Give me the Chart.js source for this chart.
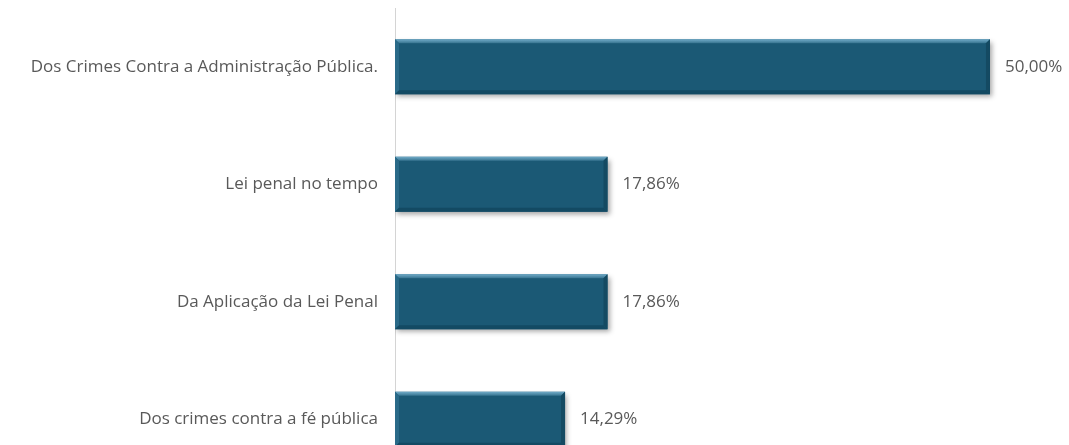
<!DOCTYPE html>
<html>
<head>
<meta charset="utf-8">
<script src="https://cdn.jsdelivr.net/npm/chart.js@4"></script>
<style>
  html, body { margin: 0; padding: 0; background: #fff; overflow: hidden; }
  #wrap { width: 1069px; height: 478px; position: relative; }
</style>
</head>
<body>
<div id="wrap"><canvas id="chart"></canvas></div>
<script>
// ===== DATA =====
const categories = [
  'Dos Crimes Contra a Administração Pública.',
  'Lei penal no tempo',
  'Da Aplicação da Lei Penal',
  'Dos crimes contra a fé pública'
];
const percentages = [50.00, 17.86, 17.86, 14.29];

const FONT = "'Open Sans', sans-serif";
const TEXT_COLOR = '#595959';
const fmtPct = v => v.toFixed(2).replace('.', ',') + '%';

// shadow + bevel look for the bars, plus value labels
const bevelBars = {
  id: 'bevelBars',
  beforeDatasetsDraw(chart) {
    const ctx = chart.ctx;
    ctx.save();
    ctx.shadowColor = 'rgba(0,0,0,0.35)';
    ctx.shadowBlur = 5;
    ctx.shadowOffsetX = 2;
    ctx.shadowOffsetY = 3;
  },
  afterDatasetsDraw(chart) {
    const ctx = chart.ctx;
    ctx.restore();
    const meta = chart.getDatasetMeta(0);
    meta.data.forEach((bar, i) => {
      const left = bar.base, right = bar.x;
      const top = bar.y - bar.height / 2, bottom = bar.y + bar.height / 2;
      const b = 4;
      ctx.save();
      // top bevel
      let g = ctx.createLinearGradient(0, top, 0, top + b + 2);
      g.addColorStop(0, '#74aecb');
      g.addColorStop(1, '#1b5975');
      ctx.fillStyle = g;
      ctx.beginPath();
      ctx.moveTo(left, top); ctx.lineTo(right, top);
      ctx.lineTo(right - b, top + b); ctx.lineTo(left + b, top + b);
      ctx.closePath(); ctx.fill();
      // left bevel
      ctx.fillStyle = '#2a6a88';
      ctx.beginPath();
      ctx.moveTo(left, top); ctx.lineTo(left + b, top + b);
      ctx.lineTo(left + b, bottom - b); ctx.lineTo(left, bottom);
      ctx.closePath(); ctx.fill();
      // bottom bevel
      ctx.fillStyle = '#134a63';
      ctx.beginPath();
      ctx.moveTo(left, bottom); ctx.lineTo(right, bottom);
      ctx.lineTo(right - b, bottom - b); ctx.lineTo(left + b, bottom - b);
      ctx.closePath(); ctx.fill();
      // right bevel
      ctx.fillStyle = '#144a62';
      ctx.beginPath();
      ctx.moveTo(right, top); ctx.lineTo(right, bottom);
      ctx.lineTo(right - b, bottom - b); ctx.lineTo(right - b, top + b);
      ctx.closePath(); ctx.fill();
      // value label
      ctx.fillStyle = TEXT_COLOR;
      ctx.font = '17px ' + FONT;
      ctx.textAlign = 'left';
      ctx.textBaseline = 'middle';
      ctx.fillText(fmtPct(percentages[i]), right + 15, bar.y);
      ctx.restore();
    });
  }
};

const ctx = document.getElementById('chart').getContext('2d');
new Chart(ctx, {
  type: 'bar',
  data: {
    labels: categories,
    datasets: [{
      data: percentages,
      backgroundColor: '#1b5975',
      borderWidth: 0,
      barPercentage: 0.47,
      categoryPercentage: 1
    }]
  },
  options: {
    indexAxis: 'y',
    responsive: true,
    maintainAspectRatio: false,
    animation: false,
    layout: { padding: { top: 8, right: 0, bottom: 0, left: 0 } },
    plugins: {
      legend: { display: false },
      tooltip: { enabled: false }
    },
    scales: {
      x: {
        display: false,
        min: 0,
        max: 56.64
      },
      y: {
        afterFit(scale) {
          scale.width = 395;
          scale.paddingTop = 0;
          scale.paddingBottom = 0;
        },
        grid: { display: false, drawTicks: false },
        border: { display: true, color: '#d4d4d4', width: 1 },
        ticks: {
          color: TEXT_COLOR,
          font: { family: FONT, size: 17 },
          padding: 17
        }
      }
    }
  },
  plugins: [bevelBars]
});
</script>
</body>
</html>
